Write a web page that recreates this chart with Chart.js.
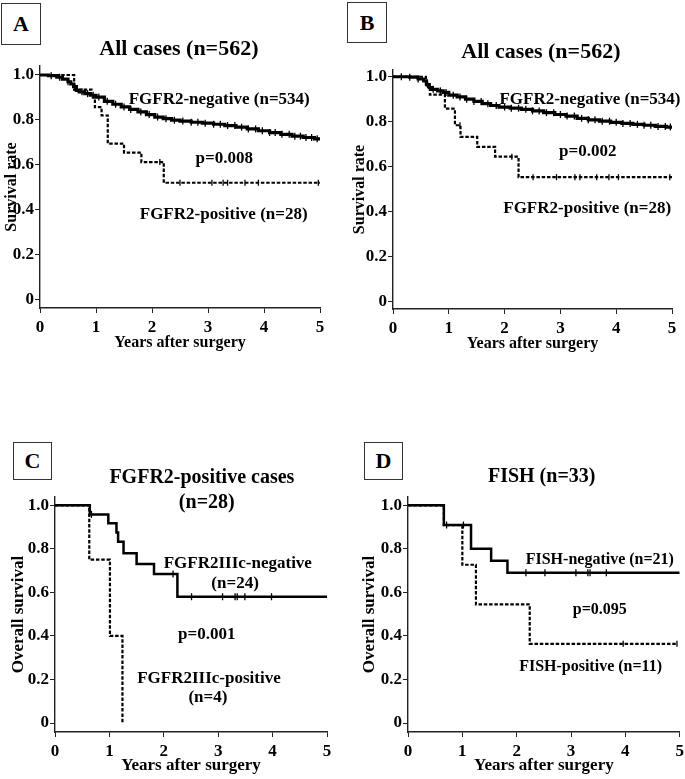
<!DOCTYPE html>
<html>
<head>
<meta charset="utf-8">
<title>FGFR2 survival curves</title>
<script src="https://cdn.jsdelivr.net/npm/chart.js@4"></script>
<style>
	body { margin: 0; padding: 0; background: #fff; }
	#wrap { position: relative; width: 685px; height: 779px; overflow: hidden; }
	canvas { position: absolute; }
	.tag {
		position: absolute; box-sizing: border-box; border: 1px solid #333; background: #fff;
		font: bold 22px "Liberation Serif", "Times New Roman", serif; color: #000;
		display: flex; align-items: center; justify-content: center;
	}
</style>
</head>
<body>
<div id="wrap">
	<canvas id="cA" width="345" height="390" style="left:0;top:0"></canvas>
	<canvas id="cB" width="340" height="390" style="left:345px;top:0"></canvas>
	<canvas id="cC" width="345" height="389" style="left:0;top:390px"></canvas>
	<canvas id="cD" width="340" height="389" style="left:345px;top:390px"></canvas>
	<div class="tag" style="left:1px;top:3px;width:40px;height:42px">A</div>
	<div class="tag" style="left:347px;top:2px;width:40px;height:41px">B</div>
	<div class="tag" style="left:13px;top:442px;width:39px;height:38px">C</div>
	<div class="tag" style="left:364px;top:442px;width:39px;height:38px">D</div>
</div>

<script>
// survival tick values shared by all panels
var survTicks = [0, 0.2, 0.4, 0.6, 0.8, 1.0];

// A: all cases
var aNegT = [0, 0.15, 0.3, 0.4, 0.5, 0.55, 0.6, 0.65, 0.7, 0.8, 0.9, 1.0, 1.15, 1.3, 1.45, 1.6, 1.75, 1.9, 2.05, 2.2, 2.35, 2.5, 2.7, 2.9, 3.1, 3.3, 3.5, 3.7, 3.9, 4.1, 4.3, 4.5, 4.7, 4.9, 5.0];
var aNegS = [1, 0.997, 0.99, 0.982, 0.97, 0.96, 0.948, 0.932, 0.925, 0.917, 0.91, 0.902, 0.883, 0.87, 0.858, 0.847, 0.836, 0.824, 0.813, 0.806, 0.799, 0.795, 0.79, 0.786, 0.781, 0.775, 0.768, 0.76, 0.752, 0.744, 0.736, 0.728, 0.722, 0.716, 0.714];
var aNegCens = [0.2, 0.35, 0.5, 0.62, 0.75, 0.85, 0.95, 1.05, 1.2, 1.35, 1.5, 1.62, 1.8, 1.95, 2.1, 2.25, 2.4, 2.55, 2.7, 2.82, 2.95, 3.1, 3.22, 3.35, 3.48, 3.6, 3.72, 3.85, 3.97, 4.1, 4.2, 4.32, 4.45, 4.55, 4.65, 4.75, 4.85, 4.95];
var aPosT = [0, 0.61, 0.92, 0.98, 1.10, 1.21, 1.50, 1.81, 2.21, 5.0];
var aPosS = [1, 0.935, 0.90, 0.857, 0.82, 0.695, 0.655, 0.613, 0.521, 0.521];
var aPosCens = [2.14, 2.5, 3.07, 3.27, 3.35, 3.66, 3.9, 4.97];
var aNotes = ['All cases (n=562)', 'FGFR2-negative (n=534)', 'p=0.008', 'FGFR2-positive (n=28)'];

// B: all cases, second analysis
var bNegT = [0, 0.3, 0.45, 0.55, 0.6, 0.65, 0.7, 0.8, 0.9, 1.0, 1.15, 1.3, 1.45, 1.6, 1.75, 1.9, 2.1, 2.3, 2.5, 2.7, 2.9, 3.1, 3.3, 3.5, 3.7, 3.9, 4.1, 4.3, 4.5, 4.7, 4.9, 5.0];
var bNegS = [1, 0.998, 0.99, 0.982, 0.965, 0.952, 0.944, 0.937, 0.93, 0.918, 0.91, 0.9, 0.89, 0.88, 0.872, 0.865, 0.86, 0.855, 0.848, 0.84, 0.832, 0.825, 0.815, 0.808, 0.802, 0.797, 0.792, 0.788, 0.784, 0.779, 0.776, 0.775];
var bNegCens = [0.15, 0.3, 0.45, 0.62, 0.72, 0.85, 0.95, 1.08, 1.2, 1.32, 1.45, 1.58, 1.7, 1.85, 2.0, 2.12, 2.25, 2.38, 2.5, 2.62, 2.75, 2.88, 3.0, 3.12, 3.25, 3.38, 3.5, 3.62, 3.75, 3.88, 4.0, 4.12, 4.25, 4.38, 4.5, 4.62, 4.75, 4.88, 4.97];
var bPosT = [0, 0.59, 0.66, 0.93, 1.11, 1.21, 1.51, 1.83, 2.25, 5.0];
var bPosS = [1, 0.96, 0.92, 0.858, 0.784, 0.732, 0.688, 0.644, 0.553, 0.553];
var bPosCens = [1.2, 2.13, 2.51, 2.93, 3.26, 3.35, 3.65, 3.87, 4.04, 4.96];
var bNotes = ['All cases (n=562)', 'FGFR2-negative (n=534)', 'p=0.002', 'FGFR2-positive (n=28)'];

// C: FGFR2-positive cases by FGFR2IIIc
var cNegT = [0, 0.64, 0.98, 1.13, 1.16, 1.26, 1.50, 1.82, 2.25, 5.0];
var cNegS = [1, 0.958, 0.917, 0.875, 0.833, 0.78, 0.73, 0.685, 0.58, 0.58];
var cNegCens = [0.67, 2.17, 2.51, 3.08, 3.31, 3.35, 3.49, 3.98];
var cPosT = [0, 0.63, 1.01, 1.24];
var cPosS = [1, 0.75, 0.4, 0];
var cNotes = ['FGFR2-positive cases', '(n=28)', 'FGFR2IIIc-negative', '(n=24)', 'p=0.001', 'FGFR2IIIc-positive', '(n=4)'];

// D: FISH
var dNegT = [0, 0.66, 1.16, 1.53, 1.83, 5.0];
var dNegS = [1, 0.909, 0.80, 0.745, 0.69, 0.69];
var dNegCens = [0.71, 1.02, 2.17, 2.52, 3.09, 3.31, 3.35, 3.65];
var dPosT = [0, 0.66, 1.0, 1.25, 2.24, 4.95];
var dPosS = [1, 0.909, 0.727, 0.545, 0.364, 0.364];
var dPosCens = [3.96, 4.95];
var dNotes = ['FISH (n=33)', 'FISH-negative (n=21)', 'p=0.095', 'FISH-positive (n=11)'];

var FONT = '"Liberation Serif", "Times New Roman", serif';

function toPoints(t, s) {
	return t.map(function (x, i) { return { x: x, y: s[i] }; });
}
function survAt(t, s, x) {
	var v = s[0];
	for (var i = 0; i < t.length; i++) { if (t[i] <= x) v = s[i]; }
	return v;
}
function censorPoints(t, s, cens) {
	return cens.map(function (c) { return { x: c, y: survAt(t, s, c) }; });
}

function curve(t, s, width, dash) {
	return {
		data: toPoints(t, s), stepped: true, borderColor: '#000', borderWidth: width,
		borderDash: dash || [], pointRadius: 0, fill: false
	};
}
function ticksSet(t, s, cens, r) {
	return {
		data: censorPoints(t, s, cens), showLine: false, pointStyle: 'line', rotation: 90,
		pointRadius: r, borderColor: '#000', borderWidth: 1.3
	};
}

// draws titles and curve labels at axis positions
function notesPlugin(texts, spots) {
	return {
		id: 'notes',
		afterDraw: function (chart) {
			var ctx = chart.ctx, xs = chart.scales.x, ys = chart.scales.y;
			ctx.save();
			ctx.fillStyle = '#000';
			ctx.textAlign = 'center';
			ctx.textBaseline = 'middle';
			texts.forEach(function (txt, i) {
				var p = spots[i];
				ctx.font = 'bold ' + p[2] + 'px ' + FONT;
				ctx.fillText(txt, xs.getPixelForValue(p[0]), ys.getPixelForValue(p[1]));
			});
			ctx.restore();
		}
	};
}

function makePanel(id, box, datasets, yTitle, texts, spots) {
	var c = document.getElementById(id);
	var W = c.width, H = c.height;
	var xH = 48;
	new Chart(c.getContext('2d'), {
		type: 'line',
		data: { datasets: datasets },
		options: {
			responsive: false, animation: false,
			layout: { padding: { left: 0, top: box.top, right: W - box.right, bottom: H - box.bottom - xH } },
			plugins: { legend: { display: false }, tooltip: { enabled: false } },
			scales: {
				x: {
					type: 'linear', min: 0, max: 5,
					ticks: { stepSize: 1, padding: 4, color: '#000', font: { family: FONT, weight: 'bold', size: box.tick } },
					grid: { drawOnChartArea: false, drawTicks: true, tickLength: 5, color: '#222' },
					border: { display: true, color: '#222', width: 1.4 },
					title: { display: true, text: 'Years after surgery', color: '#000', padding: { top: 4, bottom: 4 },
						font: { family: FONT, weight: 'bold', size: box.axis } },
					afterFit: function (s) { s.height = xH; s.paddingLeft = 0; s.paddingRight = 0; }
				},
				y: {
					type: 'linear', min: box.ymin, max: box.ymax,
					afterBuildTicks: function (s) { s.ticks = survTicks.map(function (v) { return { value: v }; }); },
					ticks: {
						padding: 1, color: '#000', font: { family: FONT, weight: 'bold', size: box.tick },
						callback: function (v) { return v === 0 ? '0' : v.toFixed(1); }
					},
					grid: { drawOnChartArea: false, drawTicks: true, tickLength: 5, color: '#222' },
					border: { display: true, color: '#222', width: 1.4 },
					title: { display: true, text: yTitle, color: '#000', padding: { top: box.ytPad, bottom: 0 },
						font: { family: FONT, weight: 'bold', size: box.axis } },
					afterFit: function (s) { s.width = box.left; s.paddingTop = 0; s.paddingBottom = 0; }
				}
			}
		},
		plugins: [notesPlugin(texts, spots)]
	});
}

makePanel('cA',
	{ left: 40, top: 66, right: 320, bottom: 308, ymin: -0.036, ymax: 1.04, tick: 17, axis: 16, ytPad: 2 },
	[curve(aNegT, aNegS, 3.2), ticksSet(aNegT, aNegS, aNegCens, 3.5),
	 curve(aPosT, aPosS, 2.2, [3.5, 1.8]), ticksSet(aPosT, aPosS, aPosCens, 3)],
	'Survival rate', aNotes,
	[[2.48, 1.116, 22], [3.2, 0.889, 17], [3.29, 0.63, 17], [3.28, 0.378, 17]]);

makePanel('cB',
	{ left: 48, top: 70, right: 327, bottom: 309, ymin: -0.034, ymax: 1.03, tick: 17, axis: 16, ytPad: 5 },
	[curve(bNegT, bNegS, 3.2), ticksSet(bNegT, bNegS, bNegCens, 3.5),
	 curve(bPosT, bPosS, 2.2, [3.5, 1.8]), ticksSet(bPosT, bPosS, bPosCens, 3)],
	'Survival rate', bNotes,
	[[2.65, 1.11, 22], [3.53, 0.898, 17], [3.49, 0.667, 17], [3.48, 0.413, 17]]);

makePanel('cC',
	{ left: 55, top: 107, right: 327, bottom: 342, ymin: -0.041, ymax: 1.038, tick: 17, axis: 17, ytPad: 8 },
	[curve(cNegT, cNegS, 2.5), ticksSet(cNegT, cNegS, cNegCens, 3.5),
	 curve(cPosT, cPosS, 2.2, [3.5, 1.8])],
	'Overall survival', cNotes,
	[[2.70, 1.124, 20], [2.79, 1.009, 20], [3.36, 0.734, 17], [3.31, 0.642, 17],
	 [2.79, 0.404, 17], [2.83, 0.206, 17], [2.81, 0.115, 17]]);

makePanel('cD',
	{ left: 63, top: 107, right: 335, bottom: 342, ymin: -0.041, ymax: 1.038, tick: 17, axis: 17, ytPad: 14 },
	[curve(dNegT, dNegS, 2.5), ticksSet(dNegT, dNegS, dNegCens, 3.5),
	 curve(dPosT, dPosS, 2.2, [3.5, 1.8]), ticksSet(dPosT, dPosS, dPosCens, 3)],
	'Overall survival', dNotes,
	[[2.46, 1.13, 20], [3.53, 0.748, 16], [3.53, 0.518, 16], [3.36, 0.257, 16]]);
</script>
</body>
</html>
